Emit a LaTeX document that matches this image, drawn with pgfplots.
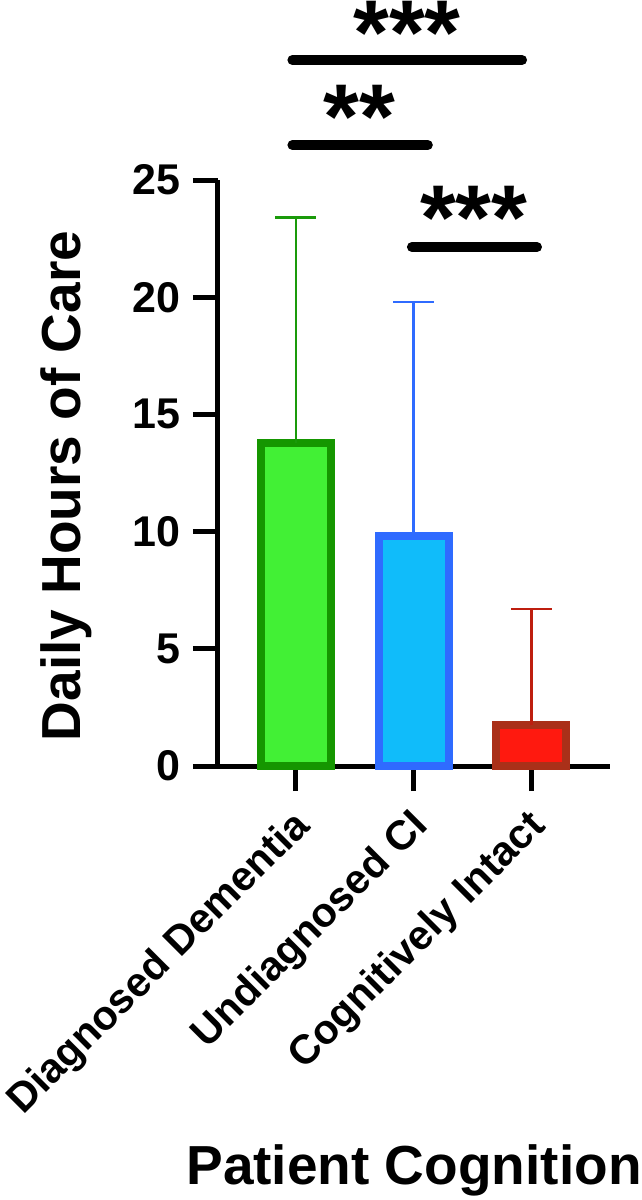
\documentclass[border=0pt]{standalone}
\usepackage{pgfplots}
\pgfplotsset{compat=1.18}
\usepackage{fontspec}
\setmainfont{Liberation Sans}
\definecolor{gfill}{HTML}{42F035}
\definecolor{gborder}{HTML}{159600}
\definecolor{gerr}{HTML}{1A9A0A}
\definecolor{bfill}{HTML}{10BCFA}
\definecolor{bborder}{HTML}{2F6BFF}
\definecolor{berr}{HTML}{2F6BFF}
\definecolor{rfill}{HTML}{FF190F}
\definecolor{rborder}{HTML}{AA3019}
\definecolor{rerr}{HTML}{BE1E0F}
\begin{document}
\begin{tikzpicture}
\begin{axis}[
  at={(0,0)}, anchor=south west,
  scale only axis, width=196pt, height=293pt,
  xmin=-0.662, xmax=2.667, ymin=0, ymax=25,
  axis x line*=bottom, axis y line*=left,
  axis line style={line width=2.5pt, -},
  ytick={0,5,10,15,20,25}, xtick={0,1,2},
  xticklabels={Diagnosed Dementia, Undiagnosed CI, Cognitively Intact},
  tick align=outside, major tick length=12.5pt,
  tick style={line width=2.5pt, black},
  /pgf/number format/assume math mode=true,
  yticklabel style={font=\fontsize{21.5}{21.5}\selectfont\bfseries, xshift=-3pt},
  xticklabel style={font=\fontsize{20.6}{20.6}\selectfont\bfseries, rotate=45, anchor=north east, xshift=-4pt},
  ylabel={Daily Hours of Care}, xlabel={Patient Cognition},
  label style={font=\fontsize{27.5}{27.5}\selectfont\bfseries},
  ylabel style={at={(axis description cs:-0.388,0.478)}, anchor=center},
  xlabel style={at={(axis description cs:0.5,-0.715)}, anchor=base},
  clip=false,
  ybar, bar width=35pt, bar shift=0pt,
]
\addplot[draw=gborder, fill=gfill, line width=4pt,
  error bars/.cd, y dir=plus, y explicit,
  error bar style={line width=1.3pt, color=gerr},
  error mark options={rotate=90, mark size=10.25pt, line width=1.3pt, color=gerr}]
  coordinates {(0,13.8) +- (0,9.6)};
\addplot[draw=bborder, fill=bfill, line width=4pt,
  error bars/.cd, y dir=plus, y explicit,
  error bar style={line width=1.3pt, color=berr},
  error mark options={rotate=90, mark size=10.25pt, line width=1.3pt, color=berr}]
  coordinates {(1,9.8) +- (0,10.0)};
\addplot[draw=rborder, fill=rfill, line width=4pt,
  error bars/.cd, y dir=plus, y explicit,
  error bar style={line width=1.3pt, color=rerr},
  error mark options={rotate=90, mark size=10.25pt, line width=1.3pt, color=rerr}]
  coordinates {(2,1.75) +- (0,4.95)};
\draw[line width=5pt, line cap=round] (axis cs:-0.03,30.12) -- (axis cs:1.92,30.12);
\draw[line width=5pt, line cap=round] (axis cs:-0.03,26.49) -- (axis cs:1.12,26.49);
\draw[line width=5pt, line cap=round] (axis cs:0.985,22.14) -- (axis cs:2.047,22.14);
\node[font=\fontsize{46}{46}\selectfont\bfseries, inner sep=0pt] at (axis cs:0.943,31.27) {***};
\node[font=\fontsize{46}{46}\selectfont\bfseries, inner sep=0pt] at (axis cs:0.54,27.7) {**};
\node[font=\fontsize{46}{46}\selectfont\bfseries, inner sep=0pt] at (axis cs:1.51,23.4) {***};
\end{axis}
\pgfresetboundingbox
\path[use as bounding box] (-109pt,-217pt) rectangle (212pt,383pt);
\end{tikzpicture}
\end{document}
